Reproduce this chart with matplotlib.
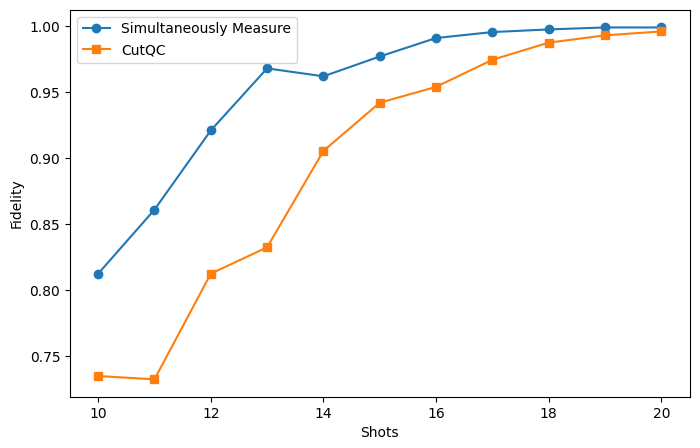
import numpy as np
from matplotlib import pyplot as plt

shots = np.arange(10, 21)
simultaneous = np.array([0.8125, 0.861, 0.921, 0.968, 0.962, 0.977, 0.991, 0.9955, 0.9975, 0.999, 0.999])
cutqc = np.array([0.735, 0.7325, 0.8125, 0.8325, 0.9055, 0.942, 0.954, 0.9745, 0.9875, 0.993, 0.996])

fig = plt.figure(figsize=(7, 4.48), dpi=100)
plt.plot(shots, simultaneous, 'o-', label='Simultaneously Measure')
plt.plot(shots, cutqc, 's-', label='CutQC')
plt.xlabel('Shots')
plt.ylabel('Fidelity')
plt.legend(loc='upper left')
plt.subplots_adjust(left=0.1, right=0.985, top=0.978, bottom=0.114)
plt.savefig('out.png')
